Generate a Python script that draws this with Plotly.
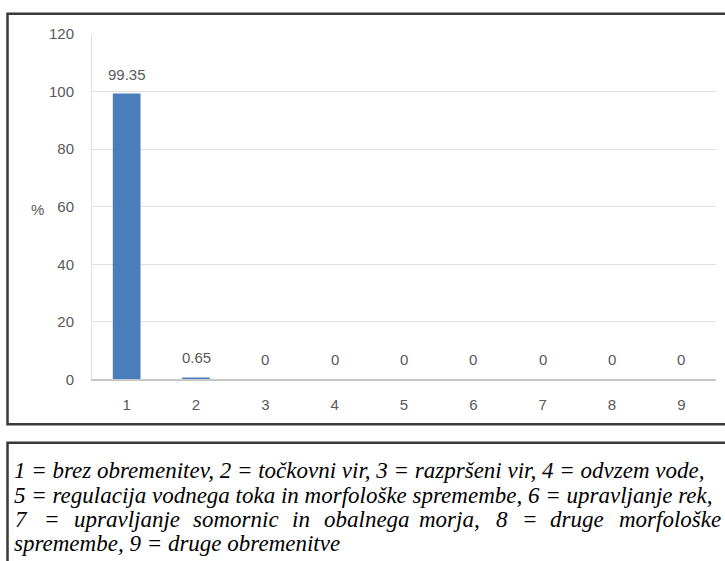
import plotly.graph_objects as go

# Share of water bodies by main pressure type
categories = ["1", "2", "3", "4", "5", "6", "7", "8", "9"]
values = [99.35, 0.65, 0, 0, 0, 0, 0, 0, 0]
value_labels = ["99.35", "0.65", "0", "0", "0", "0", "0", "0", "0"]
y_ticks = [0, 20, 40, 60, 80, 100, 120]

legend_lines = [
    "1 = brez obremenitev, 2 = točkovni vir, 3 = razpršeni vir, 4 = odvzem vode,",
    "5 = regulacija vodnega toka in morfološke spremembe, 6 = upravljanje rek,",
    None,
    "spremembe, 9 = druge obremenitve",
]
# justified third line: words with their left edges (px); last word is right-aligned
line3_words = ["7", "=", "upravljanje", "somornic", "in", "obalnega", "morja,", "8", "=", "druge", "morfološke"]
line3_x = [13, 42, 72, 191, 290, 322, 417, 494, 520, 548, 723]

W, H = 725, 561
Y0, YS = 7.8, 0.972  # vertical placement of page rows


def px(x):
    return x / W


def py(y):
    return 1 - ((y - Y0) / YS) / H


AXIS_FONT = dict(family="Liberation Sans", size=15, color="#595959")
TEXT_FONT = dict(family="Liberation Serif", size=23, color="#000000", style="italic")

fig = go.Figure()
fig.add_trace(go.Bar(
    x=list(range(len(categories))), y=values,
    marker=dict(color="#4a7ebb", line=dict(width=0)),
    width=0.4,
    hoverinfo="skip",
))

# value labels above the bars
for i, (v, t) in enumerate(zip(values, value_labels)):
    fig.add_annotation(x=i, y=v, xref="x", yref="y", text=t, showarrow=False,
                       yanchor="bottom", yshift=9, font=AXIS_FONT)

# "%" axis title
fig.add_annotation(x=px(37), y=py(209), xref="paper", yref="paper", text="%",
                   showarrow=False, font=AXIS_FONT, xanchor="center", yanchor="middle")

# legend text block
baselines = [476, 501, 526, 550]
for i, line in enumerate(legend_lines):
    yc = py(baselines[i] - 6)
    if line is not None:
        fig.add_annotation(x=px(12), y=yc, xref="paper", yref="paper",
                           text=line, showarrow=False,
                           xanchor="left", yanchor="middle", font=TEXT_FONT)
    else:
        last = len(line3_words) - 1
        for j, (w, xw) in enumerate(zip(line3_words, line3_x)):
            fig.add_annotation(x=px(xw), y=yc, xref="paper", yref="paper",
                               text=w, showarrow=False,
                               xanchor="right" if j == last else "left",
                               yanchor="middle", font=TEXT_FONT)

# frames around the chart and the text block
fig.add_shape(type="rect", xref="paper", yref="paper",
              x0=px(7.5), x1=1.02, y0=py(424), y1=py(12.5),
              line=dict(color="#3a3a3a", width=2.5), fillcolor="rgba(0,0,0,0)")
fig.add_shape(type="rect", xref="paper", yref="paper",
              x0=px(7.5), x1=1.02, y0=-0.05, y1=py(442.5),
              line=dict(color="#3a3a3a", width=2.5), fillcolor="rgba(0,0,0,0)")

fig.update_layout(
    width=W, height=H,
    margin=dict(l=0, r=0, t=0, b=0),
    paper_bgcolor="white", plot_bgcolor="white",
    showlegend=False,
    bargap=0.6,
    xaxis=dict(
        domain=[px(92), px(716)],
        range=[-0.5, len(categories) - 0.5],
        tickvals=list(range(len(categories))), ticktext=categories,
        showline=True, linecolor="#c8c8c8", linewidth=2,
        showgrid=False, zeroline=False, ticks="", tickfont=AXIS_FONT,
        ticklabelstandoff=11,
    ),
    yaxis=dict(
        domain=[py(379), py(33)],
        range=[0, 120],
        tickvals=y_ticks,
        showline=True, linecolor="#e0e0e0", linewidth=1,
        showgrid=True, gridcolor="#e0e0e0", gridwidth=1,
        zeroline=False, ticks="", tickfont=AXIS_FONT,
        ticklabelstandoff=14,
    ),
)

fig.write_html("out.html")
